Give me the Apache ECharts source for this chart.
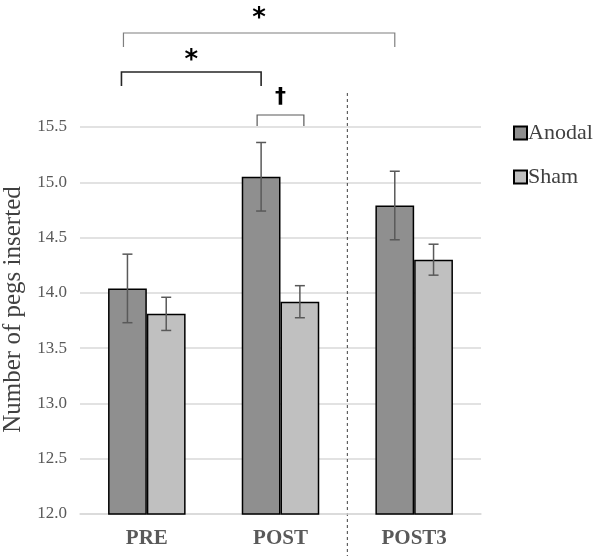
<!DOCTYPE html>
<html>
<head>
<meta charset="utf-8">
<script src="https://cdn.jsdelivr.net/npm/echarts@6/dist/echarts.min.js"></script>
<style>
  html, body { margin: 0; padding: 0; background: #fff; }
  #main { width: 600px; height: 560px; }
</style>
</head>
<body>
<div id="main"></div>
<script>
let categories = ['PRE', 'POST', 'POST3'];
let anodal = [14.04, 15.05, 14.79];
let anodalErr = [0.31, 0.31, 0.31];
let sham = [13.81, 13.92, 14.30];
let shamErr = [0.15, 0.145, 0.14];
let yTicks = [12.0, 12.5, 13.0, 13.5, 14.0, 14.5, 15.0, 15.5];

let BAR_PCT = 0.29;
let serif = 'Liberation Serif';

function errSeries(name, vals, errs, side) {
    return {
        name: name + ' err',
        type: 'custom',
        z: 10,
        silent: true,
        data: vals.map(function (v, i) { return [i, v - errs[i], v + errs[i]]; }),
        renderItem: function (params, api) {
            let idx = api.value(0);
            let lo = api.coord([idx, api.value(1)]);
            let hi = api.coord([idx, api.value(2)]);
            let bw = api.size([1, 0])[0] * BAR_PCT;
            let x = lo[0] + side * bw / 2;
            let cap = 5;
            let st = { stroke: '#595959', lineWidth: 1.5 };
            return {
                type: 'group',
                children: [
                    { type: 'line', shape: { x1: x, y1: lo[1], x2: x, y2: hi[1] }, style: st },
                    { type: 'line', shape: { x1: x - cap, y1: lo[1], x2: x + cap, y2: lo[1] }, style: st },
                    { type: 'line', shape: { x1: x - cap, y1: hi[1], x2: x + cap, y2: hi[1] }, style: st }
                ]
            };
        }
    };
}

let myChart = echarts.init(document.getElementById('main'));

let option = {
    animation: false,
    grid: { left: 80, right: 119, top: 127, bottom: 46, containLabel: false, outerBoundsMode: 'none' },
    legend: {
        data: ['Anodal', 'Sham'],
        orient: 'vertical',
        left: 508,
        top: 117,
        itemWidth: 13,
        itemHeight: 13,
        itemGap: 22,
        icon: 'rect',
        textStyle: { fontFamily: serif, fontSize: 22, color: '#404040', padding: [0, 0, 0, -4] }
    },
    xAxis: {
        type: 'category',
        data: categories,
        axisTick: { show: false },
        axisLine: { lineStyle: { color: '#d9d9d9', width: 1.5 } },
        axisLabel: { fontFamily: serif, fontSize: 21, fontWeight: 'bold', color: '#595959', margin: 14 }
    },
    yAxis: {
        type: 'value',
        min: yTicks[0],
        max: yTicks[yTicks.length - 1],
        interval: 0.5,
        name: 'Number of pegs inserted',
        nameLocation: 'middle',
        nameGap: 52,
        nameTextStyle: { fontFamily: serif, fontSize: 25, color: '#404040', padding: [0, 0, 0, 22] },
        axisLine: { show: false },
        axisTick: { show: false },
        axisLabel: {
            fontFamily: serif, fontSize: 17, color: '#595959', margin: 13,
            formatter: function (v) { return v.toFixed(1); }
        },
        splitLine: { lineStyle: { color: '#d9d9d9', width: 1.5 } }
    },
    series: [
        {
            name: 'Anodal',
            type: 'bar',
            data: anodal,
            barWidth: (BAR_PCT * 100) + '%',
            barGap: '0%',
            itemStyle: { color: '#8f8f8f', borderColor: '#000', borderWidth: 1.5 }
        },
        {
            name: 'Sham',
            type: 'bar',
            data: sham,
            barWidth: (BAR_PCT * 100) + '%',
            barGap: '0%',
            itemStyle: { color: '#c0c0c0', borderColor: '#000', borderWidth: 1.5 }
        },
        errSeries('Anodal', anodal, anodalErr, -1),
        errSeries('Sham', sham, shamErr, 1)
    ]
};
myChart.setOption(option);

// annotation positions derived from the axes
function barX(cat, side) {
    let c = myChart.convertToPixel({ xAxisIndex: 0 }, cat);
    let step = myChart.convertToPixel({ xAxisIndex: 0 }, 1) - myChart.convertToPixel({ xAxisIndex: 0 }, 0);
    return c + side * step * BAR_PCT / 2;
}
let topY = myChart.convertToPixel({ yAxisIndex: 0 }, 15.5);
let baseY = myChart.convertToPixel({ yAxisIndex: 0 }, 12);

function bracket(x1, x2, y, drop, color, width) {
    return {
        type: 'polyline',
        shape: { points: [[x1, y + drop], [x1, y], [x2, y], [x2, y + drop]] },
        style: { stroke: color, lineWidth: width, fill: null }
    };
}
function mark(x, y, txt, size) {
    return {
        type: 'text',
        x: x, y: y,
        style: { text: txt, fontSize: size, fontWeight: 'bold', fill: '#000', align: 'center', verticalAlign: 'middle', fontFamily: 'DejaVu Sans' }
    };
}

let divX = (myChart.convertToPixel({ xAxisIndex: 0 }, 1) + myChart.convertToPixel({ xAxisIndex: 0 }, 2)) / 2;
let a0 = barX(0, -1) - 4, a2 = barX(2, -1);
let b0 = barX(0, -1) - 6, b1 = barX(1, -1);
let c1 = barX(1, -1) - 4, c2 = barX(1, 1) + 4;

myChart.setOption({
    graphic: [
        {
            type: 'line',
            shape: { x1: divX, y1: topY - 34, x2: divX, y2: baseY + 42 },
            style: { stroke: '#404040', lineWidth: 1, lineDash: [3, 3] }
        },
        bracket(a0, a2, topY - 94, 14, '#7f7f7f', 1.2),
        mark((a0 + a2) / 2, topY - 108, '*', 26),
        bracket(b0, b1, topY - 55, 14, '#262626', 1.6),
        mark((b0 + b1) / 2, topY - 66, '*', 26),
        bracket(c1, c2, topY - 12, 11, '#595959', 1.2),
        mark((c1 + c2) / 2, topY - 30, '\u2020', 22)
    ]
});
</script>
</body>
</html>
